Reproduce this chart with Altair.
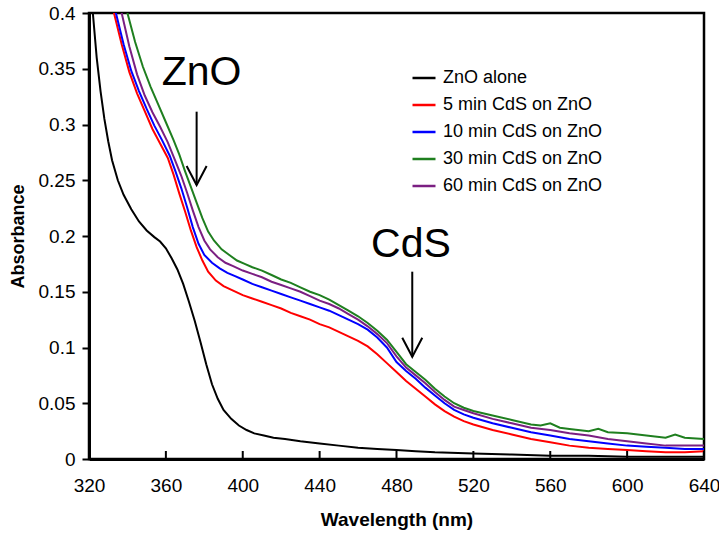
import altair as alt
import pandas as pd

FONT = "Liberation Sans"

series_names = ["ZnO alone", "5 min CdS on ZnO", "10 min CdS on ZnO",
                "30 min CdS on ZnO", "60 min CdS on ZnO"]
series_colors = ["#000000", "#ff0000", "#0000ff", "#1f7f1f", "#7b1f82"]

zno_wl = [320, 322, 324, 326, 328, 330, 332, 335, 338, 342, 346, 350, 354, 357, 360, 363, 366,
          369, 372, 375, 378, 381, 384, 387, 390, 394, 398, 402, 406, 411, 416, 422, 430, 440,
          450, 460, 470, 480, 490, 500, 520, 540, 560, 580, 600, 620, 640]
zno_abs = [0.44, 0.40, 0.36, 0.33, 0.305, 0.285, 0.268, 0.250, 0.237, 0.224, 0.213, 0.205,
           0.199, 0.195, 0.189, 0.180, 0.170, 0.157, 0.141, 0.124, 0.105, 0.085, 0.067, 0.054,
           0.044, 0.036, 0.030, 0.026, 0.023, 0.021, 0.019, 0.018, 0.016, 0.014, 0.012, 0.010,
           0.009, 0.008, 0.007, 0.006, 0.005, 0.004, 0.003, 0.003, 0.002, 0.002, 0.002]

cds5_wl = [330, 333, 337, 341, 345, 349, 353, 357, 361, 364, 367, 370, 373, 376, 379, 382, 386,
           390, 395, 400, 405, 410, 415, 420, 425, 430, 435, 440, 445, 450, 455, 460, 465, 470,
           475, 480, 485, 490, 495, 500, 505, 510, 515, 520, 530, 540, 550, 560, 570, 580, 590,
           600, 610, 620, 630, 640]
cds5_abs = [0.425, 0.40, 0.372, 0.347, 0.328, 0.312, 0.296, 0.283, 0.270, 0.255, 0.238, 0.222,
            0.205, 0.190, 0.178, 0.168, 0.160, 0.155, 0.151, 0.147, 0.144, 0.141, 0.138, 0.135,
            0.131, 0.128, 0.125, 0.121, 0.118, 0.114, 0.110, 0.106, 0.101, 0.094, 0.086, 0.078,
            0.070, 0.063, 0.056, 0.049, 0.043, 0.038, 0.034, 0.031, 0.026, 0.022, 0.018, 0.015,
            0.012, 0.010, 0.009, 0.008, 0.007, 0.006, 0.006, 0.007]

cds10_wl = [330, 334, 338, 342, 346, 350, 354, 358, 362, 365, 368, 371, 374, 377, 380, 384, 388,
            392, 396, 400, 405, 410, 415, 420, 425, 430, 435, 440, 445, 450, 455, 460, 465, 470,
            475, 480, 485, 490, 495, 500, 505, 510, 515, 520, 530, 540, 550, 560, 570, 580, 590,
            600, 610, 620, 630, 640]
cds10_abs = [0.43, 0.40, 0.372, 0.348, 0.330, 0.314, 0.299, 0.286, 0.272, 0.258, 0.243, 0.226,
             0.208, 0.193, 0.183, 0.176, 0.171, 0.167, 0.164, 0.161, 0.157, 0.154, 0.151, 0.148,
             0.145, 0.142, 0.139, 0.136, 0.133, 0.129, 0.125, 0.121, 0.116, 0.109, 0.100, 0.087,
             0.079, 0.072, 0.064, 0.057, 0.050, 0.044, 0.040, 0.037, 0.032, 0.028, 0.024, 0.021,
             0.018, 0.016, 0.014, 0.012, 0.011, 0.010, 0.009, 0.009]

cds30_wl = [337, 340, 344, 348, 352, 356, 360, 364, 367, 370, 373, 376, 379, 382, 385, 389, 393,
            397, 401, 405, 410, 415, 420, 425, 430, 435, 440, 445, 450, 455, 460, 465, 470, 475,
            480, 485, 490, 495, 500, 505, 510, 515, 520, 530, 540, 550, 555, 560, 565, 570, 580,
            585, 590, 600, 610, 620, 625, 630, 640]
cds30_abs = [0.43, 0.40, 0.374, 0.352, 0.334, 0.318, 0.302, 0.286, 0.273, 0.258, 0.244, 0.230,
             0.216, 0.204, 0.196, 0.188, 0.183, 0.178, 0.175, 0.172, 0.169, 0.165, 0.161, 0.158,
             0.154, 0.150, 0.147, 0.143, 0.138, 0.133, 0.128, 0.122, 0.115, 0.107, 0.096, 0.085,
             0.078, 0.071, 0.063, 0.056, 0.050, 0.046, 0.043, 0.039, 0.035, 0.031, 0.030, 0.032,
             0.028, 0.027, 0.025, 0.027, 0.024, 0.023, 0.021, 0.019, 0.022, 0.019, 0.018]

cds60_wl = [334, 337, 341, 345, 349, 353, 357, 361, 365, 368, 371, 374, 377, 380, 383, 387, 391,
            395, 400, 405, 410, 415, 420, 425, 430, 435, 440, 445, 450, 455, 460, 465, 470, 475,
            480, 485, 490, 495, 500, 505, 510, 515, 520, 530, 540, 550, 560, 570, 580, 590, 600,
            610, 620, 630, 640]
cds60_abs = [0.43, 0.40, 0.370, 0.345, 0.326, 0.311, 0.298, 0.284, 0.267, 0.254, 0.239, 0.223,
             0.208, 0.196, 0.188, 0.181, 0.176, 0.173, 0.169, 0.166, 0.163, 0.159, 0.156, 0.153,
             0.150, 0.146, 0.142, 0.139, 0.135, 0.130, 0.125, 0.119, 0.112, 0.104, 0.092, 0.082,
             0.075, 0.068, 0.060, 0.053, 0.047, 0.044, 0.041, 0.036, 0.032, 0.028, 0.026, 0.023,
             0.021, 0.018, 0.016, 0.014, 0.012, 0.012, 0.012]

x_ticks = [320, 360, 400, 440, 480, 520, 560, 600, 640]
y_ticks = [0, 0.05, 0.1, 0.15, 0.2, 0.25, 0.3, 0.35, 0.4]

ann_label = ["ZnO", "CdS"]
ann_x = [378.6, 487.5]
ann_y = [0.3466, 0.1919]
arrow_x = [376.0, 488.2]
arrow_top = [0.3115, 0.168]
arrow_tip = [0.2457, 0.0917]

rows = []
for name, wl, ab in [(series_names[0], zno_wl, zno_abs),
                     (series_names[1], cds5_wl, cds5_abs),
                     (series_names[2], cds10_wl, cds10_abs),
                     (series_names[3], cds30_wl, cds30_abs),
                     (series_names[4], cds60_wl, cds60_abs)]:
    for w, a in zip(wl, ab):
        rows.append({"series": name, "wl": w, "abs": a})
df = pd.DataFrame(rows)

ann_df = pd.DataFrame({"label": ann_label, "x": ann_x, "y": ann_y})
arr_df = pd.DataFrame({"x": arrow_x, "top": arrow_top, "tip": arrow_tip})
tick_df = pd.DataFrame({"t": x_ticks})

W, H = 615, 446


def xs():
    return alt.Scale(domain=[320, 640], nice=False, zero=False)


def ys():
    return alt.Scale(domain=[0, 0.4], nice=False, zero=False)


lines = alt.Chart(df).mark_line(strokeWidth=2, clip=True).encode(
    x=alt.X("wl:Q", scale=xs(), axis=alt.Axis(
        title="Wavelength (nm)", values=x_ticks, ticks=False, tickSize=0,
        labelFlush=False, labelOverlap=False,
        labelFontSize=19, labelPadding=17, labelColor="#000000", labelFont=FONT,
        domainColor="#000000", domainWidth=3, grid=False,
        titleFont=FONT, titleFontSize=19, titleFontWeight="bold", titleColor="#000000",
        titleX=W / 2, titleY=60, titleBaseline="middle", titleAlign="center")),
    y=alt.Y("abs:Q", scale=ys(), axis=alt.Axis(
        title="Absorbance", values=y_ticks, format="~g", ticks=True, tickSize=7,
        tickWidth=2, tickColor="#000000", labelFlush=False, labelOverlap=False,
        labelFontSize=19, labelPadding=7, labelColor="#000000", labelFont=FONT,
        domainColor="#000000", domainWidth=3, grid=False,
        titleFont=FONT, titleFontSize=18, titleFontWeight="bold", titleColor="#000000",
        titleAngle=270, titleX=-71, titleY=H / 2, titleBaseline="middle", titleAlign="center")),
    color=alt.Color("series:N", sort=series_names,
                    scale=alt.Scale(domain=series_names, range=series_colors),
                    legend=alt.Legend(title=None, orient="none", legendX=322, legendY=52,
                                      symbolType="stroke", symbolSize=529,
                                      symbolStrokeWidth=2.5, labelFontSize=18,
                                      labelFont=FONT, labelColor="#000000",
                                      labelOffset=6, rowPadding=5, padding=0)),
    order=alt.Order("wl:Q"),
)

xticks_layer = alt.Chart(tick_df).mark_rule(color="#000000", strokeWidth=2).encode(
    x=alt.X("t:Q", scale=xs(), axis=None),
    y=alt.value(H - 8),
    y2=alt.value(H),
)

shafts = alt.Chart(arr_df).mark_rule(color="#000000", strokeWidth=2).encode(
    x=alt.X("x:Q", scale=xs(), axis=None),
    y=alt.Y("top:Q", scale=ys(), axis=None),
    y2="tip:Q",
)

heads = alt.Chart(arr_df).mark_point(
    shape="M-1,-1.9L0,0L1,-1.9", size=400, filled=False, color="#000000",
    strokeWidth=2, opacity=1).encode(
    x=alt.X("x:Q", scale=xs(), axis=None),
    y=alt.Y("tip:Q", scale=ys(), axis=None),
)

texts = alt.Chart(ann_df).mark_text(font=FONT, fontSize=41, color="#000000",
                                    baseline="middle", align="center").encode(
    x=alt.X("x:Q", scale=xs(), axis=None),
    y=alt.Y("y:Q", scale=ys(), axis=None),
    text="label:N",
)

chart = alt.layer(lines, xticks_layer, shafts, heads, texts).resolve_scale(
    x="independent", y="independent"
).properties(
    width=W, height=H,
    autosize=alt.AutoSizeParams(type="none"),
    padding={"left": 89, "top": 13, "right": 15, "bottom": 74},
    background="white",
).configure_view(stroke="#000000", strokeWidth=2.5)

chart.save("out.html", embed_options={"renderer": "svg", "actions": False})
